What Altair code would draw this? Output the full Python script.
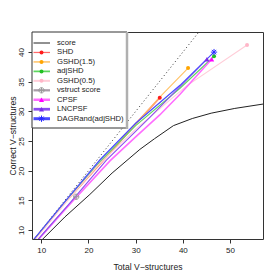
import altair as alt
import pandas as pd

names = ["score", "SHD", "GSHD(1.5)", "adjSHD", "GSHD(0.5)", "vstruct score",
         "CPSF", "LNCPSF", "DAGRand(adjSHD)"]
line_colors = ["#222222", "#ff6a6a", "#ffc266", "#5fd65f", "#ffcdd8", "#a89ca8",
               "#ff6cff", "#8c4cf0", "#4a4aff"]
marker_colors = ["#222222", "#ff1a1a", "#ffa500", "#22c022", "#ffb6c8", "#9a9a9a",
                 "#ff00ff", "#7a2ee6", "#2a2aff"]
plot_widths = [1, 1.6, 1.1, 1.1, 1.1, 1.1, 1.6, 1.1, 1.2]
legend_widths = [1, 3, 1, 1, 1.2, 1.2, 3, 1.2, 1.2]
marker_shapes = [None, "circle", "circle", "circle", "circle",
                 "M-1,0A1,1 0 1,1 1,0A1,1 0 1,1 -1,0M-1,0L1,0M0,-1L0,1",
                 "triangle-up", "triangle-up",
                 "M-1,0L1,0M0,-1L0,1M-0.7,-0.7L0.7,0.7M-0.7,0.7L0.7,-0.7"]
marker_filled = [True, True, True, True, True, False, True, True, False]
marker_sizes = [0, 16, 16, 16, 16, 28, 26, 26, 40]

score_x = [10.1, 15, 20.3, 25, 30.9, 34, 38, 42, 46, 51, 57.5]
score_y = [8.3, 12.2, 16.0, 19.6, 23.6, 25.4, 27.6, 28.8, 29.7, 30.5, 31.3]
shd_x = [8.4, 15, 20, 24.9, 30, 35.1]
shd_y = [8.3, 14.6, 19.0, 23.3, 27.9, 32.3]
gshd15_x = [8.4, 15, 20, 25, 30, 35.1, 41.1]
gshd15_y = [8.3, 14.6, 19.0, 23.4, 27.9, 32.4, 37.3]
adjshd_x = [8.4, 15, 22.4, 30, 39.4, 46.6]
adjshd_y = [8.3, 14.7, 21.5, 27.6, 33.9, 39.3]
gshd05_x = [8.6, 15, 22, 30, 40.8, 53.6]
gshd05_y = [8.3, 14.5, 20.9, 27.0, 34.3, 41.2]
vstruct_x = [9.2, 13, 17.4]
vstruct_y = [8.3, 11.8, 15.6]
cpsf_x = [9.3, 16, 24.6, 30, 35.1, 39.4, 46.1]
cpsf_y = [8.3, 14.3, 21.7, 25.7, 29.4, 32.9, 38.8]
lncpsf_x = [9.2, 16, 23.8, 33, 45.1]
lncpsf_y = [8.3, 14.5, 21.8, 29.0, 38.8]
dag_x = [8.3, 15, 22.4, 30, 39.4, 46.6]
dag_y = [8.3, 14.8, 21.8, 28.0, 34.4, 40.0]
diag_x = [7, 45]
diag_y = [7, 45]

xs = [score_x, shd_x, gshd15_x, adjshd_x, gshd05_x, vstruct_x, cpsf_x, lncpsf_x, dag_x]
ys = [score_y, shd_y, gshd15_y, adjshd_y, gshd05_y, vstruct_y, cpsf_y, lncpsf_y, dag_y]

x_ticks = [10, 20, 30, 40, 50]
y_ticks = [10, 15, 20, 25, 30, 35, 40]
x_domain = [8.03, 56.98]
y_domain = [8.48, 43.39]

FONT = "Liberation Sans"
W, H = 231, 207

xscale = alt.Scale(domain=x_domain, nice=False, zero=False)
yscale = alt.Scale(domain=y_domain, nice=False, zero=False)

x_axis = alt.Axis(values=x_ticks, title="Total V\u2212structures", grid=False, domain=False,
                  tickSize=4, tickColor="#333", labelFont=FONT, labelFontSize=8,
                  labelColor="#222", labelPadding=3, titleFont=FONT, titleFontSize=8.6,
                  titleFontWeight="normal", titleColor="#222", titleX=W / 2, titleY=27,
                  titleBaseline="middle", titleAlign="center", format="d")
y_axis = alt.Axis(values=y_ticks, title="Correct V\u2212structures", grid=False, domain=False,
                  tickSize=4, tickColor="#333", labelFont=FONT, labelFontSize=8,
                  labelColor="#222", labelPadding=3, labelAngle=270, labelAlign="center",
                  labelBaseline="bottom", titleFont=FONT, titleFontSize=8.6,
                  titleFontWeight="normal", titleColor="#222", titleX=-20, titleY=H / 2,
                  titleAngle=270, titleBaseline="middle", titleAlign="center", format="d")


def xy():
    return dict(x=alt.X("x:Q", scale=xscale, axis=x_axis),
                y=alt.Y("y:Q", scale=yscale, axis=y_axis))


layers = []
diag_df = pd.DataFrame({"x": diag_x, "y": diag_y})
layers.append(alt.Chart(diag_df).mark_line(clip=True, color="#333", strokeWidth=1,
                                            strokeDash=[1, 2.6]).encode(**xy()))

for i, n in enumerate(names):
    df = pd.DataFrame({"x": xs[i], "y": ys[i], "i": list(range(len(xs[i])))})
    layers.append(alt.Chart(df).mark_line(clip=True, color=line_colors[i],
                                          strokeWidth=plot_widths[i]).encode(
        order="i:Q", **xy()))

for i, n in enumerate(names):
    if marker_shapes[i] is None:
        continue
    df = pd.DataFrame({"x": [xs[i][-1]], "y": [ys[i][-1]]})
    if marker_filled[i]:
        mk = alt.Chart(df).mark_point(shape=marker_shapes[i], filled=True, size=marker_sizes[i],
                                      color=marker_colors[i], opacity=1, clip=True)
    else:
        mk = alt.Chart(df).mark_point(shape=marker_shapes[i], filled=False, size=marker_sizes[i],
                                      color=marker_colors[i], strokeWidth=1, opacity=1, clip=True)
    layers.append(mk.encode(**xy()))

main = alt.layer(*layers)

# legend
leg_df = pd.DataFrame({"name": names})
yleg = alt.Y("name:N", scale=alt.Scale(type="point", domain=names, range=[11, 86.7], padding=0),
             axis=None)
box_df = pd.DataFrame({"k": [0]})
leg_layers = []
leg_layers.append(alt.Chart(box_df).mark_rect(fill="white", stroke="#333", strokeWidth=1).encode(
    x=alt.value(0), x2=alt.value(95), y=alt.value(0), y2=alt.value(96)))
leg_layers.append(alt.Chart(box_df).mark_rule(color="#b0b0b0", strokeWidth=2.5).encode(
    x=alt.value(95), y=alt.value(0), y2=alt.value(97)))
leg_layers.append(alt.Chart(leg_df).mark_rule().encode(
    x=alt.value(1.5), x2=alt.value(18), y=yleg,
    color=alt.Color("name:N", scale=alt.Scale(domain=names, range=line_colors), legend=None),
    strokeWidth=alt.StrokeWidth("name:N", scale=alt.Scale(domain=names, range=legend_widths),
                                legend=None)))
for i, n in enumerate(names):
    if marker_shapes[i] is None:
        continue
    df = pd.DataFrame({"name": [n]})
    if marker_filled[i]:
        mk = alt.Chart(df).mark_point(shape=marker_shapes[i], filled=True, size=marker_sizes[i],
                                      color=marker_colors[i], opacity=1)
    else:
        mk = alt.Chart(df).mark_point(shape=marker_shapes[i], filled=False, size=marker_sizes[i],
                                      color=marker_colors[i], strokeWidth=1, opacity=1)
    leg_layers.append(mk.encode(x=alt.value(9.5), y=yleg))
leg_layers.append(alt.Chart(leg_df).mark_text(align="left", baseline="middle", font=FONT,
                                              fontSize=7.7, color="#222").encode(
    x=alt.value(25), y=yleg, text="name:N"))
legend = alt.layer(*leg_layers)

chart = alt.layer(main, legend).resolve_scale(y="independent").properties(
    width=W, height=H,
    autosize=alt.AutoSizeParams(type="none"),
    padding={"left": 24, "top": 24, "right": 9, "bottom": 33},
).configure_view(stroke="#333", strokeWidth=1)

chart.save("out.html", embed_options={"renderer": "svg", "actions": False})
